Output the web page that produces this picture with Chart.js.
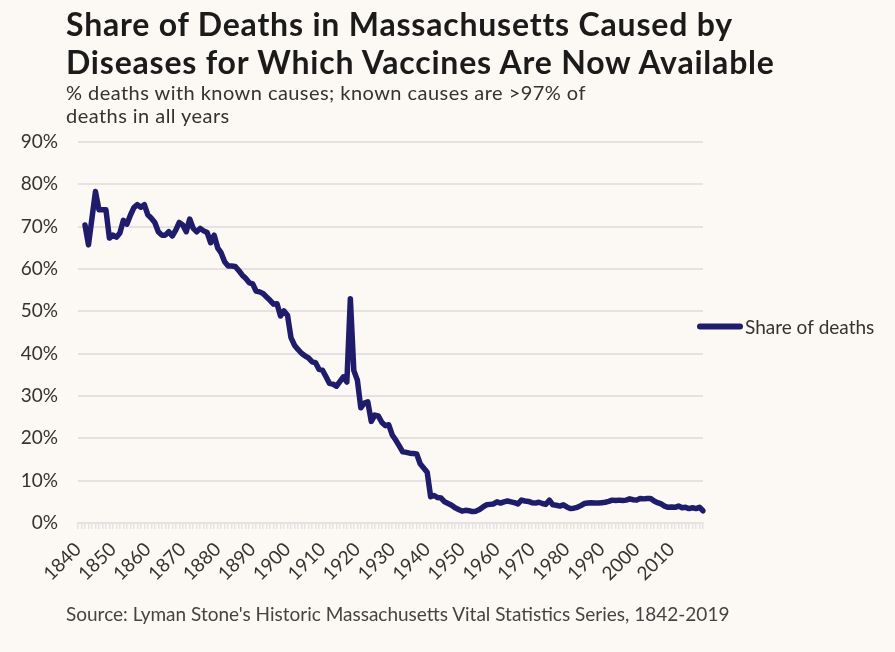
<!DOCTYPE html>
<html>
<head>
<meta charset="utf-8">
<title>Share of Deaths in Massachusetts</title>
<script src="https://cdn.jsdelivr.net/npm/chart.js@4.4.1/dist/chart.umd.min.js"></script>
<style>
  html, body { margin: 0; padding: 0; background: #fcf8f3; }
  body { width: 895px; height: 652px; position: relative; overflow: hidden; font-family: Lato, sans-serif; }
  #title { position: absolute; left: 66px; top: 5px; font-size: 32px; letter-spacing: 0.8px; font-weight: 700; line-height: 38px; color: #1b1b1b; white-space: nowrap; }
  #subtitle { position: absolute; left: 66px; top: 81px; font-size: 20px; letter-spacing: 0.45px; line-height: 23px; color: #333; white-space: nowrap; }
  #wrap { position: absolute; left: 0; top: 0; width: 895px; height: 652px; }
  #source { position: absolute; left: 66px; top: 602px; font-size: 19px; color: #444; white-space: nowrap; }
</style>
</head>
<body>
<div id="wrap"><canvas id="deathsChart"></canvas></div>
<div id="title">Share of Deaths in Massachusetts Caused by<br>Diseases for Which Vaccines Are Now Available</div>
<div id="subtitle">% deaths with known causes; known causes are &gt;97% of<br>deaths in all years</div>
<div id="source">Source: Lyman Stone's Historic Massachusetts Vital Statistics Series, 1842-2019</div>
<script>
// axis runs 1840-2019, data begins in 1842
const firstYear = 1840;
const lastYear = 2019;
const dataStartYear = 1842;
const tickYears = [1840, 1850, 1860, 1870, 1880, 1890, 1900, 1910, 1920, 1930, 1940, 1950, 1960, 1970, 1980, 1990, 2000, 2010];
const yTicks = [0, 10, 20, 30, 40, 50, 60, 70, 80, 90];

// share of deaths (%), one value per year 1842..2019
const shareOfDeaths = [
    70.4, 65.7, 72.0, 78.3, 74.0, 74.0, 74.0, 67.3,                         // 1842-1849
    68.0, 67.5, 68.5, 71.5, 70.6, 72.7, 74.5, 75.2, 74.6, 75.2,             // 1850s
    72.8, 72.0, 71.0, 68.8, 68.0, 68.0, 68.8, 67.8, 69.2, 71.0,             // 1860s
    70.4, 68.8, 71.8, 69.6, 68.8, 69.6, 69.0, 68.6, 66.2, 68.0,             // 1870s
    65.0, 63.8, 61.7, 60.7, 60.7, 60.6, 59.7, 58.6, 57.8, 56.8,             // 1880s
    56.5, 54.8, 54.6, 54.2, 53.4, 52.6, 51.7, 51.8, 48.9, 50.1,             // 1890s
    49.1, 43.8, 42.0, 41.0, 40.1, 39.5, 39.0, 38.1, 37.9, 36.3,             // 1900s
    36.1, 34.6, 33.0, 32.8, 32.3, 33.4, 34.5, 33.3, 53.0, 36.0,             // 1910s
    33.8, 27.2, 28.3, 28.6, 24.0, 25.5, 25.3, 23.8, 23.0, 23.2,             // 1920s
    20.8, 19.6, 18.2, 16.8, 16.7, 16.5, 16.4, 16.3, 14.0, 13.0,             // 1930s
    12.0, 6.2, 6.5, 6.0, 5.9, 5.0, 4.6, 4.2, 3.6, 3.2,                      // 1940s
    2.8, 3.0, 2.9, 2.7, 2.8, 3.2, 3.8, 4.3, 4.4, 4.5,                       // 1950s
    5.0, 4.7, 5.0, 5.2, 5.0, 4.8, 4.5, 5.4, 5.2, 5.1,                       // 1960s
    4.8, 4.7, 4.9, 4.6, 4.4, 5.4, 4.3, 4.2, 4.0, 4.3,                       // 1970s
    3.8, 3.4, 3.5, 3.7, 4.1, 4.6, 4.7, 4.8, 4.7, 4.7,                       // 1980s
    4.8, 4.9, 5.1, 5.4, 5.3, 5.4, 5.3, 5.4, 5.7, 5.5,                       // 1990s
    5.4, 5.8, 5.7, 5.8, 5.8, 5.2, 4.8, 4.5, 4.0, 3.7,                       // 2000s
    3.8, 3.7, 4.0, 3.6, 3.7, 3.4, 3.6, 3.4, 3.7, 2.9                        // 2010s
];

document.addEventListener("DOMContentLoaded", function() {
    const years = [];
    for (let y = firstYear; y <= lastYear; y++) years.push(y);
    // pad the years before the series starts
    const values = years.map(function(y) {
        return y < dataStartYear ? null : shareOfDeaths[y - dataStartYear];
    });

    const tickFont = { family: 'Lato', size: 19 };
    const gridColor = '#e6e2e2';

    // legend drawn as a line sample just right of the plot
    const lineLegend = {
        id: 'lineLegend',
        afterDraw(chart) {
            const ctx = chart.ctx;
            const area = chart.chartArea;
            const ds = chart.data.datasets[0];
            const y = (area.top + area.bottom) / 2 - 6;
            const x = area.right - 3;
            ctx.save();
            ctx.strokeStyle = ds.borderColor;
            ctx.lineWidth = 6;
            ctx.lineCap = 'round';
            ctx.beginPath();
            ctx.moveTo(x, y);
            ctx.lineTo(x + 40, y);
            ctx.stroke();
            ctx.fillStyle = '#333';
            ctx.font = '19px Lato';
            ctx.textBaseline = 'middle';
            ctx.fillText(ds.label, x + 45, y + 1);
            ctx.restore();
        }
    };

    const ctxDeaths = document.getElementById('deathsChart').getContext('2d');

    new Chart(ctxDeaths, {
        type: 'line',
        data: {
            labels: years,
            datasets: [{
                label: 'Share of deaths',
                data: values,
                borderColor: '#201c6c',
                backgroundColor: '#201c6c',
                borderWidth: 5.5,
                pointRadius: 0,
                tension: 0,
                borderJoinStyle: 'round',
                borderCapStyle: 'round',
            }]
        },
        options: {
            responsive: true,
            maintainAspectRatio: false,
            animation: false,
            layout: {
                padding: { top: 142, right: 192, bottom: 0, left: 0 }
            },
            scales: {
                x: {
                    type: 'category',
                    offset: false,
                    afterFit: function(scale) { scale.height = 129; },
                    grid: {
                        drawOnChartArea: false,
                        drawTicks: true,
                        tickLength: 6,
                        color: gridColor,
                        lineWidth: 1.5,
                    },
                    border: { display: true, color: gridColor, width: 2 },
                    ticks: {
                        autoSkip: false,
                        minRotation: 45,
                        maxRotation: 45,
                        padding: 9,
                        color: '#333',
                        font: tickFont,
                        callback: function(value) {
                            const yr = this.getLabelForValue(value);
                            return tickYears.includes(yr) ? String(yr) : '';
                        }
                    }
                },
                y: {
                    min: yTicks[0],
                    max: yTicks[yTicks.length - 1],
                    afterFit: function(scale) { scale.width = 78; },
                    grid: {
                        color: gridColor,
                        lineWidth: 2,
                        drawTicks: false,
                    },
                    border: { display: false },
                    ticks: {
                        stepSize: 10,
                        padding: 20,
                        color: '#333',
                        font: tickFont,
                        callback: function(value) { return value + '%'; }
                    }
                }
            },
            plugins: {
                legend: { display: false },
                tooltip: { enabled: false },
            }
        },
        plugins: [lineLegend]
    });
});
</script>
</body>
</html>
